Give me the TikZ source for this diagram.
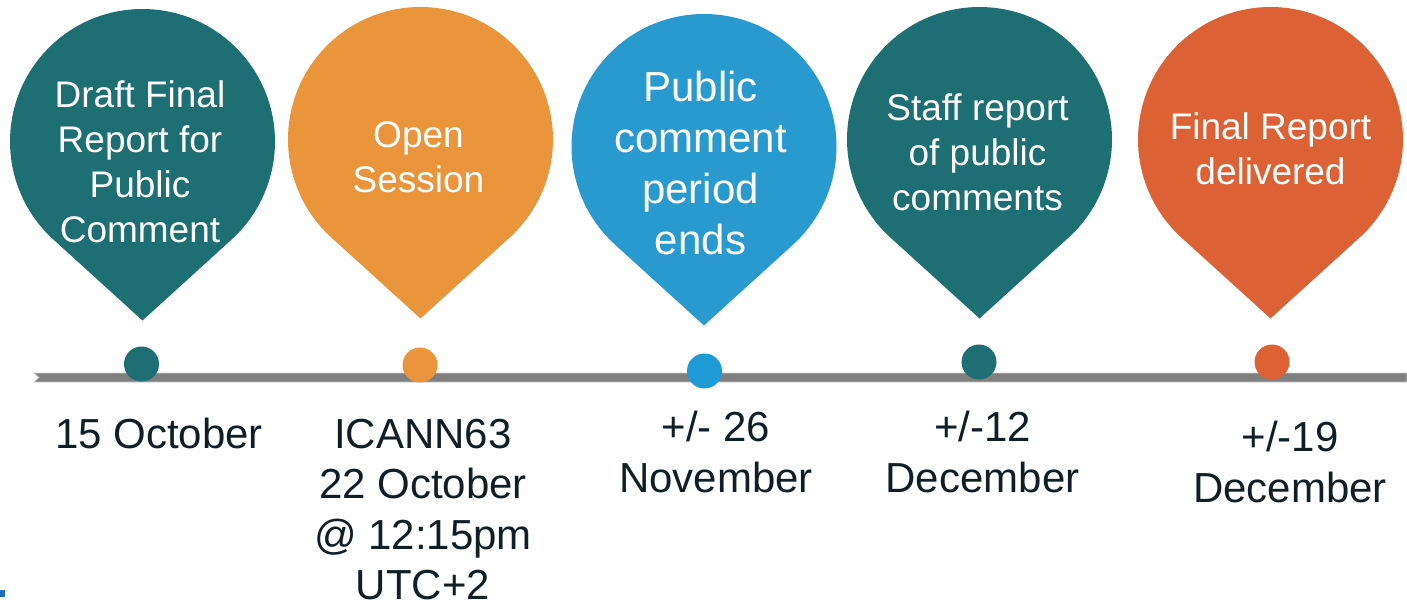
\documentclass[tikz,border=0pt]{standalone}
\usepackage{fontspec}
\setmainfont{Liberation Sans}

\definecolor{pinteal}{HTML}{1D6F74}
\definecolor{pinorange}{HTML}{EA943C}
\definecolor{pinblue}{HTML}{289AD0}
\definecolor{pinred}{HTML}{DC6235}
\definecolor{dotblue}{HTML}{1E9AD6}
\definecolor{bargray}{HTML}{7F7F7F}
\definecolor{baredge}{HTML}{C9C9C9}
\definecolor{datedark}{HTML}{111E24}
\definecolor{markblue}{HTML}{1F6EC0}

\begin{document}
\begin{tikzpicture}[x=1pt,y=-1pt,
	pintext/.style={text=white,align=center,inner sep=0pt,anchor=base},
	datetext/.style={text=datedark,align=center,inner sep=0pt,anchor=base,
		font=\fontsize{42}{50.5}\selectfont},
	dot/.style={circle,inner sep=0pt,minimum size=35pt}]
\useasboundingbox (0,0) rectangle (1407,604);

%----------------------------
% Pins
%----------------------------
\foreach \cx/\cy/\col in {142.5/141.5/pinteal,420.5/139.5/pinorange,
	704/146.5/pinblue,979.5/139.5/pinteal,1270.5/139.5/pinred}
	\fill[fill=\col] (\cx,\cy+179) -- ([shift={(\cx,\cy)}]132.3:132.5)
	arc[start angle=132.3, end angle=407.7, radius=132.5] -- cycle;

% texts in the pins (placed at the baseline of the last line)
\node[pintext,font=\fontsize{37}{44.7}\selectfont] (draft) at (140,242)
	{Draft Final\\Report for\\Public\\Comment};
\node[pintext,font=\fontsize{37}{44.5}\selectfont] (open) at (418.5,192.5)
	{Open\\Session};
\node[pintext,font=\fontsize{42}{51}\selectfont] (ends) at (700.5,254)
	{Public\\comment\\period\\ends};
\node[pintext,font=\fontsize{37}{45}\selectfont] (staff) at (977.5,211)
	{Staff report\\of public\\comments};
\node[pintext,font=\fontsize{37}{45}\selectfont] (final) at (1270.5,185)
	{Final Report\\delivered};

%----------------------------
% Timeline bar and dots
%----------------------------
\filldraw[fill=bargray, draw=baredge, line width=0.8pt]
	(34,373) -- (39,377.5) -- (34,382) -- (1407,382) -- (1407,373) -- cycle;

\node[dot,fill=pinteal] (dot1) at (141.5,364) {};
\node[dot,fill=pinorange] (dot2) at (420,365) {};
\node[dot,fill=dotblue] (dot3) at (704.5,371) {};
\node[dot,fill=pinteal] (dot4) at (979,362) {};
\node[dot,fill=pinred] (dot5) at (1272,362) {};

%----------------------------
% Dates
%----------------------------
\node[datetext] (oct15) at (159,448) {15 October};
\node[datetext] (icann) at (423,599.5) {ICANN63\\22 October\\@ 12:15pm\\UTC+2};
\node[datetext] (nov26) at (716,492) {+/- 26\\November};
\node[datetext] (dec12) at (982.5,492) {+/-12\\December};
\node[datetext] (dec19) at (1290,502) {+/-19\\December};

% bullet mark, bottom left
\fill[markblue] (0,590) rectangle (5,597);
\end{tikzpicture}
\end{document}
